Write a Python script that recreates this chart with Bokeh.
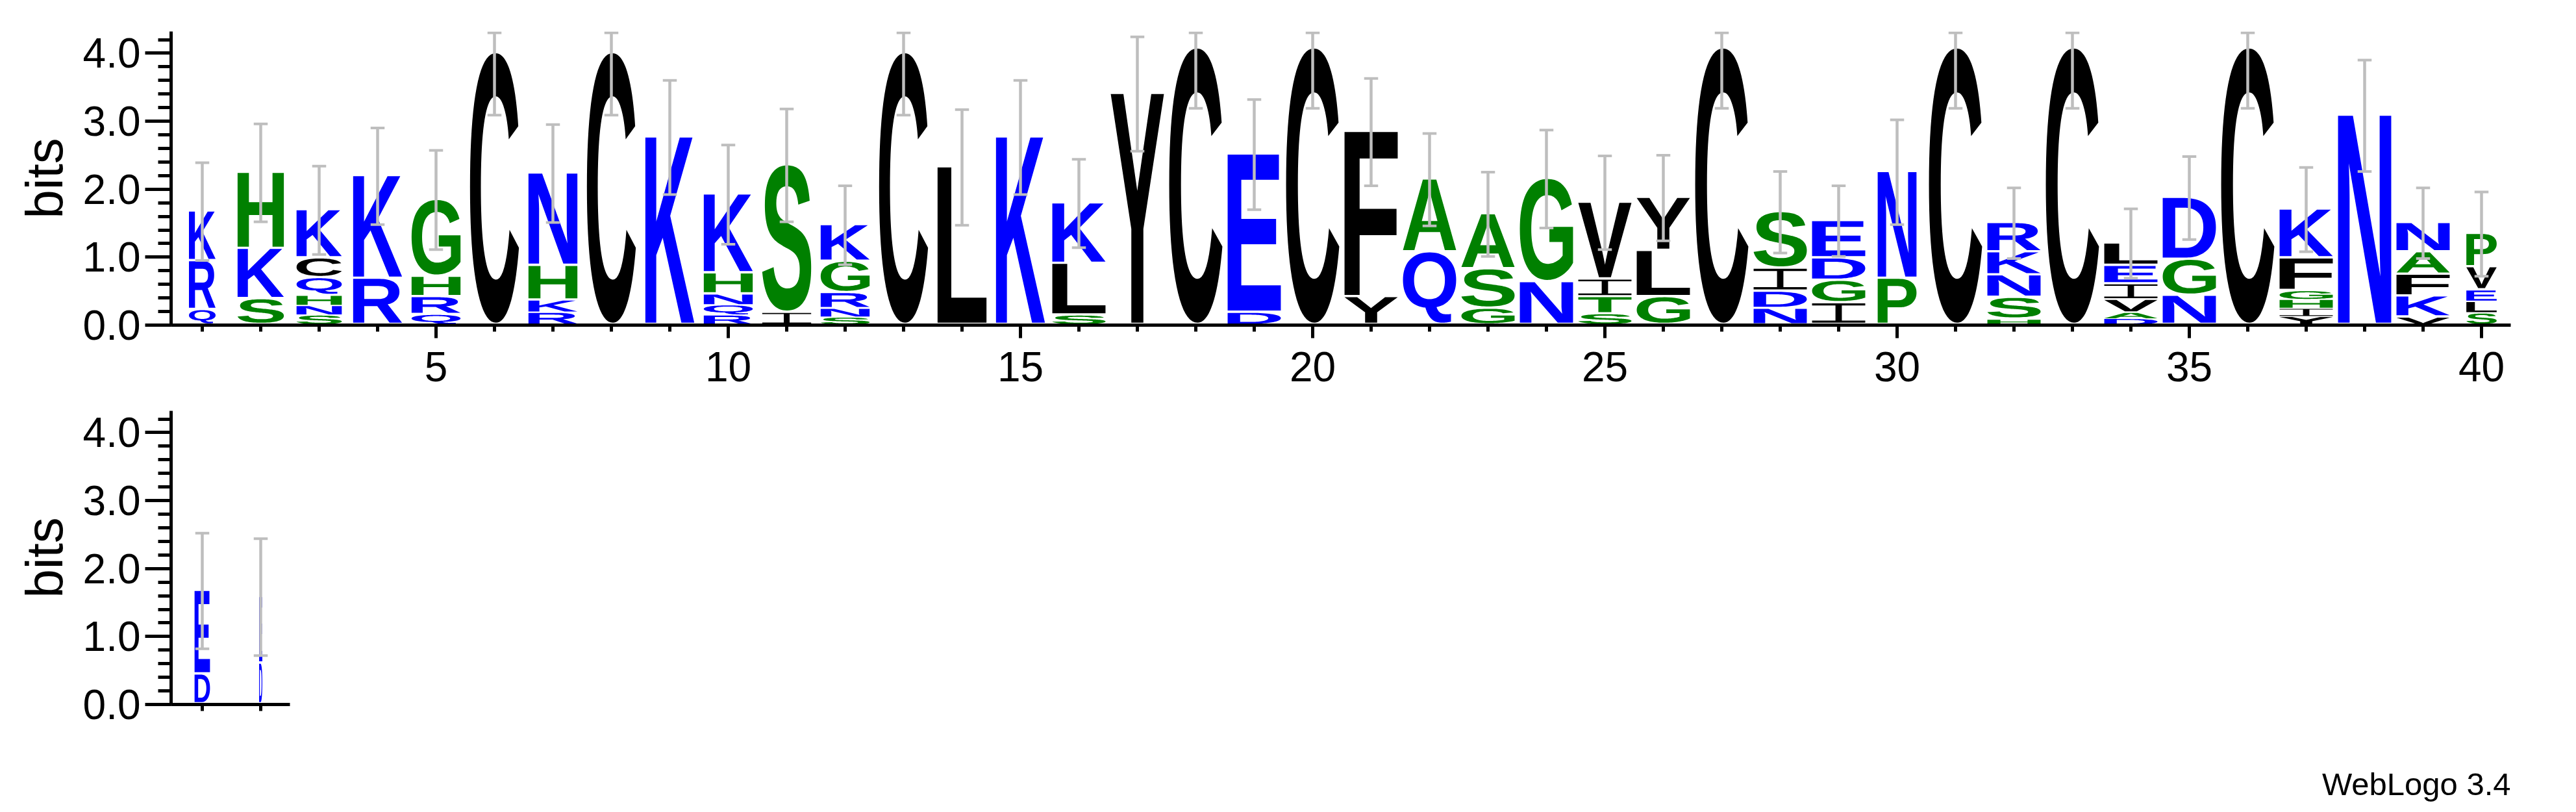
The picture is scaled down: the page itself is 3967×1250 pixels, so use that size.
import os, glob, struct
import numpy as np
from bokeh.plotting import figure
from bokeh.models import (Range1d, FixedTicker, ColumnDataSource, PrintfTickFormatter, Title,
                          LinearAxis, CustomJSTickFormatter)
from bokeh.layouts import column
from bokeh.embed import file_html
from bokeh.resources import INLINE
from bokeh.core.properties import value

# ---------------- data ----------------
top_positions = list(range(1, 41))
bottom_positions = [41, 42]

# letters of each stack, bottom to top
stack_letters = [
    "QRK", "SKH", "SNHQCK", "RK", "QRHG", "C", "RKHN", "C", "K", "RQNHK",
    "IS", "SNRGK", "C", "L", "K", "SLK", "Y", "C", "DE", "C",
    "YF", "QA", "GSA", "NG", "STIV", "GLY", "C", "NDIS", "IGDE", "PN",
    "C", "HSNKR", "C", "DAVIEL", "NGD", "C", "YIHGFK", "N", "VKFAN", "SLEVP",
    "DE", "DE",
]
# height (bits) of each letter, bottom to top
stack_bits = [
    [0.22, 0.72, 0.73], [0.38, 0.74, 1.12], [0.14, 0.14, 0.15, 0.26, 0.29, 0.71],
    [0.68, 1.51], [0.15, 0.26, 0.30, 1.13], [4.00], [0.18, 0.18, 0.51, 1.36],
    [4.00], [2.76], [0.14, 0.15, 0.16, 0.31, 1.16],
    [0.18, 2.17], [0.11, 0.13, 0.23, 0.46, 0.54], [4.00], [2.32], [2.76],
    [0.14, 0.76, 0.89], [3.40], [4.07], [0.18, 2.33], [4.07],
    [0.41, 2.43], [1.07, 1.07], [0.24, 0.58, 0.81], [0.63, 1.52],
    [0.16, 0.25, 0.26, 1.13], [0.41, 0.68, 0.78], [4.07], [0.24, 0.25, 0.34, 0.83],
    [0.32, 0.33, 0.33, 0.55], [0.68, 1.57],
    [4.07], [0.08, 0.32, 0.33, 0.34, 0.43], [4.07], [0.09, 0.09, 0.19, 0.23, 0.27, 0.33],
    [0.43, 0.53, 0.91], [4.07], [0.12, 0.12, 0.13, 0.13, 0.48, 0.72], [3.08],
    [0.11, 0.31, 0.32, 0.33, 0.43], [0.17, 0.17, 0.17, 0.34, 0.49],
    [0.44, 1.23], [0.60, 0.98],
]
# relative stack width (occupancy)
column_width = [
    0.50, 0.87, 0.85, 0.92, 0.92, 0.92, 0.92, 0.92, 0.92, 0.92,
    0.92, 0.92, 0.92, 0.92, 0.92, 1.0, 1.0, 1.0, 1.0, 1.0,
    1.0, 1.0, 1.0, 1.0, 1.0, 1.0, 1.0, 1.0, 1.0, 0.73,
    1.0, 1.0, 1.0, 1.0, 1.0, 1.0, 1.0, 1.0, 1.0, 0.57,
    0.29, 0.06,
]
# error bar half-length (bits)
error_bits = [
    0.72, 0.72, 0.65, 0.71, 0.73, 0.91, 0.72, 0.91, 0.84, 0.73,
    0.83, 0.58, 0.91, 0.85, 0.84, 0.65, 0.84, 0.88, 0.81, 0.88,
    0.79, 0.68, 0.62, 0.72, 0.69, 0.63, 0.88, 0.60, 0.52, 0.77,
    0.88, 0.52, 0.88, 0.51, 0.61, 0.88, 0.62, 0.82, 0.52, 0.62,
    0.85, 0.86,
]
x_major_ticks = [5, 10, 15, 20, 25, 30, 35, 40]
y_major_ticks = [0, 1, 2, 3, 4]
y_max = 4.32
y_label = "bits"
fineprint = "WebLogo 3.4"

# colour scheme (hydrophobicity)
BLUE, GREEN, BLACK = "#0000ff", "#008000", "#000000"
scheme = {}
for c in "RKDENQ":
    scheme[c] = BLUE
for c in "SGHTAP":
    scheme[c] = GREEN
for c in "YVMCLFIW":
    scheme[c] = BLACK

# ---------------- glyph outlines from an installed TrueType font ----------------
def find_font():
    names = ["LiberationSans-Bold.ttf", "Arial_Bold.ttf", "arialbd.ttf",
             "DejaVuSans-Bold.ttf", "NotoSans-Bold.ttf"]
    roots = ["/usr/share/fonts", "/usr/local/share/fonts",
             os.path.expanduser("~/.local/share/fonts"), os.path.expanduser("~/.fonts")]
    for n in names:
        for r in roots:
            if os.path.isdir(r):
                hits = glob.glob(os.path.join(r, "**", n), recursive=True)
                if hits:
                    return hits[0]
    return None


def flatten(pts, n_seg=10):
    m = len(pts)
    exp = []
    for i in range(m):
        x, y, on = pts[i]
        nx, ny, non = pts[(i + 1) % m]
        exp.append((x, y, on))
        if not on and not non:
            exp.append(((x + nx) / 2.0, (y + ny) / 2.0, True))
    k = next((i for i, p in enumerate(exp) if p[2]), None)
    if k is None:
        return [(p[0], p[1]) for p in exp]
    exp = exp[k:] + exp[:k]
    exp.append(exp[0])
    out = [(exp[0][0], exp[0][1])]
    i = 1
    while i < len(exp):
        p = exp[i]
        if p[2]:
            out.append((p[0], p[1]))
            i += 1
        else:
            p0 = out[-1]
            p2 = exp[i + 1]
            for s in range(1, n_seg + 1):
                t = s / n_seg
                a, b, c = (1 - t) ** 2, 2 * (1 - t) * t, t * t
                out.append((a * p0[0] + b * p[0] + c * p2[0], a * p0[1] + b * p[1] + c * p2[1]))
            i += 2
    return out


class TTF:
    def __init__(self, path):
        d = open(path, "rb").read()
        self.d = d
        n = struct.unpack(">H", d[4:6])[0]
        self.t = {}
        for i in range(n):
            tag, _, off, ln = struct.unpack(">4sIII", d[12 + 16 * i: 28 + 16 * i])
            self.t[tag.decode("latin1")] = off
        h = self.t["head"]
        self.locfmt = struct.unpack(">h", d[h + 50: h + 52])[0]
        self.cmap = self._cmap()

    def _cmap(self):
        d = self.d
        base = self.t["cmap"]
        n = struct.unpack(">H", d[base + 2: base + 4])[0]
        sub = None
        for i in range(n):
            pid, eid, off = struct.unpack(">HHI", d[base + 4 + 8 * i: base + 12 + 8 * i])
            fmt = struct.unpack(">H", d[base + off: base + off + 2])[0]
            if fmt == 4 and ((pid == 3 and eid in (0, 1)) or pid == 0):
                sub = base + off
                break
        m = {}
        segx2 = struct.unpack(">H", d[sub + 6: sub + 8])[0]
        seg = segx2 // 2
        ends = struct.unpack(">%dH" % seg, d[sub + 14: sub + 14 + segx2])
        so = sub + 16 + segx2
        starts = struct.unpack(">%dH" % seg, d[so: so + segx2])
        do = so + segx2
        deltas = struct.unpack(">%dh" % seg, d[do: do + segx2])
        ro = do + segx2
        ros = struct.unpack(">%dH" % seg, d[ro: ro + segx2])
        for i in range(seg):
            for c in range(starts[i], ends[i] + 1):
                if c > 0x7F:
                    break
                if ros[i] == 0:
                    g = (c + deltas[i]) & 0xFFFF
                else:
                    addr = ro + 2 * i + ros[i] + 2 * (c - starts[i])
                    g = struct.unpack(">H", d[addr: addr + 2])[0]
                    if g:
                        g = (g + deltas[i]) & 0xFFFF
                m[c] = g
        return m

    def contours(self, ch):
        d = self.d
        gid = self.cmap.get(ord(ch))
        if gid is None:
            return None
        loca = self.t["loca"]
        if self.locfmt == 0:
            a, b = struct.unpack(">HH", d[loca + 2 * gid: loca + 2 * gid + 4])
            a, b = 2 * a, 2 * b
        else:
            a, b = struct.unpack(">II", d[loca + 4 * gid: loca + 4 * gid + 8])
        if a == b:
            return None
        g = self.t["glyf"] + a
        nc = struct.unpack(">h", d[g: g + 2])[0]
        if nc <= 0:
            return None
        ends = struct.unpack(">%dH" % nc, d[g + 10: g + 10 + 2 * nc])
        p = g + 10 + 2 * nc
        ilen = struct.unpack(">H", d[p: p + 2])[0]
        p += 2 + ilen
        npts = ends[-1] + 1
        flags = []
        while len(flags) < npts:
            f = d[p]; p += 1
            flags.append(f)
            if f & 8:
                r = d[p]; p += 1
                flags.extend([f] * r)
        flags = flags[:npts]
        xs, v = [], 0
        for f in flags:
            if f & 2:
                dv = d[p]; p += 1
                v += dv if f & 16 else -dv
            elif not (f & 16):
                v += struct.unpack(">h", d[p: p + 2])[0]; p += 2
            xs.append(v)
        ys, v = [], 0
        for f in flags:
            if f & 4:
                dv = d[p]; p += 1
                v += dv if f & 32 else -dv
            elif not (f & 32):
                v += struct.unpack(">h", d[p: p + 2])[0]; p += 2
            ys.append(v)
        res, s = [], 0
        for e in ends:
            pts = [(xs[i], ys[i], bool(flags[i] & 1)) for i in range(s, e + 1)]
            s = e + 1
            if len(pts) >= 2:
                res.append(flatten(pts))
        return res


font_path = find_font()
FONT = None
if font_path:
    try:
        FONT = TTF(font_path)
    except Exception:
        FONT = None

_cache = {}


def unit_rings(ch):
    """Outline of a letter, normalised to the unit square (ink bounding box)."""
    if ch in _cache:
        return _cache[ch]
    rings = None
    if ch == "I":
        bar, stem = 0.11, 0.12
        l, r = 0.5 - stem / 2, 0.5 + stem / 2
        rings = [np.array([(0, 0), (1, 0), (1, bar), (r, bar), (r, 1 - bar), (1, 1 - bar), (1, 1),
                           (0, 1), (0, 1 - bar), (l, 1 - bar), (l, bar), (0, bar)], dtype=float)]
    elif FONT is not None:
        try:
            cs = FONT.contours(ch)
        except Exception:
            cs = None
        if cs:
            arrs = [np.array(c, dtype=float) for c in cs]
            allp = np.vstack(arrs)
            mn, mx = allp.min(axis=0), allp.max(axis=0)
            rings = [(a - mn) / (mx - mn) for a in arrs]
    _cache[ch] = rings
    return rings


FULL_W = 0.91      # stack width at full occupancy (position units)
GAP = 0.035        # small vertical gap under each letter (bits)
CAP_HALF = 10.75 / 90.0
ERR_COLOR = "#bebebe"
FONT_NAME = "Liberation Sans"


def build(positions):
    idx = [p - 1 for p in positions]
    xs, ys, cols = [], [], []
    tx, ty, tt, tc, ts = [], [], [], [], []
    for i in idx:
        pos = i + 1
        w = FULL_W * column_width[i]
        base = 0.0
        for ch, h in zip(stack_letters[i], stack_bits[i]):
            y0 = base + min(GAP, 0.12 * h)
            y1 = base + h
            rings = unit_rings(ch)
            if rings:
                xs.append([[list(pos - w / 2 + r[:, 0] * w) for r in rings]])
                ys.append([[list(y0 + r[:, 1] * (y1 - y0)) for r in rings]])
                cols.append(scheme[ch])
            else:
                tx.append(pos); ty.append(y0); tt.append(ch); tc.append(scheme[ch])
                ts.append("%dpx" % max(1, int((y1 - y0) * 104.6 / 0.72)))
            base += h
    tops = np.array([sum(stack_bits[i]) for i in idx])
    errs = np.array([error_bits[i] for i in idx])
    lo = tops - errs
    hi = np.minimum(tops + errs, y_max - 0.02)
    letters = ColumnDataSource(dict(xs=xs, ys=ys, color=cols))
    fallback = ColumnDataSource(dict(x=tx, y=ty, text=tt, color=tc, size=ts))
    err = ColumnDataSource(dict(x=np.array(positions, dtype=float), lo=lo, hi=hi))
    return letters, fallback, err


def make_fig(positions, x_start, x_end, frame_w, mb_top, mb_bottom, x_major, x_minor, x_bounds=None):
    p = figure(frame_width=frame_w, frame_height=452,
               x_range=Range1d(x_start, x_end), y_range=Range1d(0, y_max),
               output_backend="svg", toolbar_location=None,
               min_border_left=263, min_border_right=40,
               min_border_top=mb_top, min_border_bottom=mb_bottom,
               background_fill_color="white", border_fill_color="white")
    p.outline_line_color = None
    p.grid.visible = False

    letters, fallback, err = build(positions)
    p.multi_polygons(xs="xs", ys="ys", fill_color="color", line_color=None, source=letters)
    if len(fallback.data["x"]):
        p.text(x="x", y="y", text="text", text_color="color", text_font_size="size",
               text_align="center", text_baseline="bottom",
               text_font=value(FONT_NAME), text_font_style="bold", source=fallback)
    p.segment(x0="x", y0="lo", x1="x", y1="hi", line_color=ERR_COLOR, line_width=4.5, source=err)
    p.segment(x0=err.data["x"] - CAP_HALF, y0=err.data["lo"], x1=err.data["x"] + CAP_HALF,
              y1=err.data["lo"], line_color=ERR_COLOR, line_width=4)
    p.segment(x0=err.data["x"] - CAP_HALF, y0=err.data["hi"], x1=err.data["x"] + CAP_HALF,
              y1=err.data["hi"], line_color=ERR_COLOR, line_width=4)

    for ax in (p.xaxis[0], p.yaxis[0]):
        ax.axis_line_width = 5
        ax.axis_line_color = "black"
        ax.major_tick_line_width = 5
        ax.minor_tick_line_width = 5
        ax.major_tick_line_color = "black"
        ax.minor_tick_line_color = "black"
        ax.major_tick_in = 0
        ax.minor_tick_in = 0
        ax.major_label_text_font = FONT_NAME
        ax.major_label_text_font_size = "64px"
        ax.major_label_text_color = "black"

    xa = p.xaxis[0]
    xa.ticker = FixedTicker(ticks=x_major, minor_ticks=x_minor)
    xa.major_tick_out = 20
    xa.minor_tick_out = 10
    xa.major_label_standoff = 21
    if x_bounds is not None:
        xa.bounds = x_bounds

    ya = p.yaxis[0]
    ya.ticker = FixedTicker(ticks=y_major_ticks,
                            minor_ticks=[round(v, 1) for v in np.arange(0, 4.21, 0.2)])
    ya.formatter = PrintfTickFormatter(format="%.1f")
    ya.major_tick_out = 40
    ya.minor_tick_out = 20
    ya.major_label_standoff = 7
    ya.axis_label = y_label
    ya.axis_label_text_font = FONT_NAME
    ya.axis_label_text_font_size = "80px"
    ya.axis_label_text_font_style = "normal"
    ya.axis_label_text_color = "black"
    ya.axis_label_standoff = 12
    return p


x_pad = 3.0 / 90.0
top_x0 = top_positions[0] - 0.5 - x_pad
top_x1 = top_positions[-1] + 0.5
span = top_x1 - top_x0
frame_w = int(round(span * 90))
top = make_fig(top_positions, top_x0, top_x1, frame_w, 48, 120, x_major_ticks, top_positions)

bot_x0 = bottom_positions[0] - 0.5 - x_pad
bot_x1 = bottom_positions[-1] + 0.5
bottom = make_fig(bottom_positions, bot_x0, bot_x0 + span, frame_w, 12, 166,
                  [], bottom_positions, x_bounds=(bot_x0, bot_x1))

# blank band (white tick on white, no line, empty label) that pushes the fine print down
spacer = LinearAxis(ticker=FixedTicker(ticks=[bot_x0 + span / 2], minor_ticks=[]),
                    formatter=CustomJSTickFormatter(code="return ''"),
                    axis_line_color=None, major_tick_line_color="white", major_tick_line_width=1,
                    minor_tick_line_color=None, major_tick_in=0, minor_tick_in=0,
                    major_tick_out=78, minor_tick_out=0,
                    major_label_standoff=0, major_label_text_font_size="1px")
bottom.add_layout(spacer, "below")
bottom.add_layout(Title(text=fineprint, align="right", text_font=FONT_NAME,
                        text_font_size="49px", text_font_style="normal",
                        text_color="black", standoff=10), "below")

layout = column(top, bottom)
open("out.html", "w").write(file_html(layout, INLINE, title="WebLogo"))
